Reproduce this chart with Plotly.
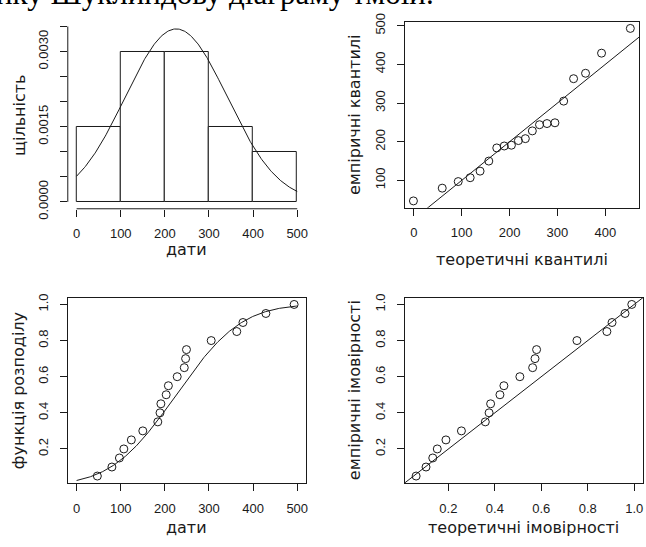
import numpy as np
import plotly.graph_objects as go
from statistics import NormalDist

# ---------------- data ----------------
dates = [47, 80, 97, 107, 124, 150, 184, 189, 191, 203,
         208, 228, 244, 247, 249, 305, 363, 377, 429, 493]
hist_start, hist_end, hist_step = 0, 500, 100
date_ticks = [0, 100, 200, 300, 400, 500]
dens_ticks = [0, 0.0005, 0.0010, 0.0015, 0.0020, 0.0025, 0.0030, 0.0035]
dens_ticktext = ["0.0000", "", "", "0.0015", "", "", "0.0030", ""]
qq_xticks = [0, 100, 200, 300, 400]
qq_yticks = [100, 200, 300, 400, 500]
prob_ticks = [0.2, 0.4, 0.6, 0.8, 1.0]
prob_ticktext = ["0.2", "0.4", "0.6", "0.8", "1.0"]
top_text = "нку Шуклиндову діаграму тмоїи."

# ---------------- fitted normal (MLE) ----------------
arr = np.array(sorted(dates), dtype=float)
n = len(arr)
mu = float(arr.mean())
sigma = float(arr.std())
nd = NormalDist(mu, sigma)
emp_p = [(i + 1) / n for i in range(n)]
ppts = [(i + 0.5) / n for i in range(n)]
theo_q = [nd.inv_cdf(p) for p in ppts]
theo_p = [nd.cdf(v) for v in arr]
xs = np.linspace(hist_start, hist_end, 301)
pdf_y = [nd.pdf(v) for v in xs]
cdf_y = [nd.cdf(v) for v in xs]

W, H = 646, 547
LINE = "#1a1a1a"
TICKFONT = dict(family="Liberation Sans, Arial, sans-serif", size=13, color="#1a1a1a")
TITLEFONT = dict(family="DejaVu Sans, sans-serif", size=16, color="#1a1a1a")


def rpad(lo, hi):
    d = 0.04 * (hi - lo)
    return [lo - d, hi + d]


def dx(l, r):
    return [l / W, r / W]


def dy(t, b):
    return [1 - b / H, 1 - t / H]


def ax(domain, rng, tickvals, ticktext=None, box=True, is_y=False, anchor=None):
    d = dict(domain=domain, range=rng, tickmode="array", tickvals=tickvals,
             ticks="outside", ticklen=7, tickwidth=1, tickcolor=LINE,
             tickfont=TICKFONT, showgrid=False, zeroline=False,
             showline=box, mirror=box, linecolor=LINE, linewidth=1,
             anchor=anchor, ticklabelstandoff=6)
    if ticktext is not None:
        d["ticktext"] = ticktext
    if is_y:
        d["tickangle"] = -90
        d["ticklabelstandoff"] = 7
    return d


fig = go.Figure()

# Panel 1: histogram + density
fig.add_trace(go.Histogram(
    x=dates, histnorm="probability density", autobinx=False,
    xbins=dict(start=hist_start, end=hist_end, size=hist_step),
    marker=dict(color="white", line=dict(color=LINE, width=1)),
    xaxis="x", yaxis="y", showlegend=False))
fig.add_trace(go.Scatter(x=xs, y=pdf_y, mode="lines", line=dict(color=LINE, width=1),
                         xaxis="x", yaxis="y", showlegend=False))

# Panel 2: Q-Q
qq_line = [min(theo_q) - 100, max(arr) + 100]
fig.add_trace(go.Scatter(x=qq_line, y=qq_line, mode="lines", line=dict(color=LINE, width=1),
                         xaxis="x2", yaxis="y2", showlegend=False))
fig.add_trace(go.Scatter(x=theo_q, y=arr, mode="markers",
                         marker=dict(symbol="circle-open", size=8, color=LINE, line=dict(width=1)),
                         xaxis="x2", yaxis="y2", showlegend=False))

# Panel 3: CDF
fig.add_trace(go.Scatter(x=xs, y=cdf_y, mode="lines", line=dict(color=LINE, width=1),
                         xaxis="x3", yaxis="y3", showlegend=False))
fig.add_trace(go.Scatter(x=arr, y=emp_p, mode="markers",
                         marker=dict(symbol="circle-open", size=8, color=LINE, line=dict(width=1)),
                         xaxis="x3", yaxis="y3", showlegend=False))

# Panel 4: P-P
pp_line = [-0.5, 1.5]
fig.add_trace(go.Scatter(x=pp_line, y=pp_line, mode="lines", line=dict(color=LINE, width=1),
                         xaxis="x4", yaxis="y4", showlegend=False))
fig.add_trace(go.Scatter(x=theo_p, y=emp_p, mode="markers",
                         marker=dict(symbol="circle-open", size=8, color=LINE, line=dict(width=1)),
                         xaxis="x4", yaxis="y4", showlegend=False))

# panel geometry (pixels)
P1 = (68, 307, 14.5, 208)
P2 = (406, 641, 14, 207)
P3 = (68, 307, 300, 492)
P4 = (406, 645, 300, 492)

pp_lo = min(min(emp_p), min(theo_p))
pp_hi = max(max(emp_p), max(theo_p))

layout = dict(
    width=W, height=H, margin=dict(l=0, r=0, t=0, b=0),
    paper_bgcolor="white", plot_bgcolor="white", bargap=0, showlegend=False,
    xaxis=ax(dx(P1[0], P1[1]), rpad(hist_start, hist_end), date_ticks, box=False, anchor="y"),
    yaxis=ax(dy(P1[2], P1[3]), rpad(0, max(pdf_y)), dens_ticks, dens_ticktext, box=False, is_y=True, anchor="x"),
    xaxis2=ax(dx(P2[0], P2[1]), rpad(min(theo_q), max(theo_q)), qq_xticks, anchor="y2"),
    yaxis2=ax(dy(P2[2], P2[3]), rpad(float(arr.min()), float(arr.max())), qq_yticks, is_y=True, anchor="x2"),
    xaxis3=ax(dx(P3[0], P3[1]), rpad(hist_start, hist_end), date_ticks, anchor="y3"),
    yaxis3=ax(dy(P3[2], P3[3]), rpad(min(emp_p), max(emp_p)), prob_ticks, prob_ticktext, is_y=True, anchor="x3"),
    xaxis4=ax(dx(P4[0], P4[1]), rpad(pp_lo, pp_hi), prob_ticks, prob_ticktext, anchor="y4"),
    yaxis4=ax(dy(P4[2], P4[3]), rpad(pp_lo, pp_hi), prob_ticks, prob_ticktext, is_y=True, anchor="x4"),
)
fig.update_layout(**layout)

# R-style detached axis lines for the histogram panel
fig.add_shape(type="line", xref="x", yref="paper", x0=date_ticks[0], x1=date_ticks[-1],
              y0=1 - P1[3] / H, y1=1 - P1[3] / H, line=dict(color=LINE, width=1))
fig.add_shape(type="line", xref="paper", yref="y", x0=P1[0] / W, x1=P1[0] / W,
              y0=dens_ticks[0], y1=dens_ticks[-1], line=dict(color=LINE, width=1))

# axis titles
titles = [
    ("дати", 187.5, 250, 0),
    ("щільність", 19, 111, -90),
    ("теоретичні квантилі", 523.5, 261, 0),
    ("емпіричні квантилі", 355, 110, -90),
    ("дати", 187.5, 538, 0),
    ("функція розподілу", 18, 396, -90),
    ("теоретичні імовірності", 525.5, 538, 0),
    ("емпіричні імовірності", 355, 396, -90),
]
for t, px, py, ang in titles:
    fig.add_annotation(text=t, xref="paper", yref="paper", x=px / W, y=1 - py / H,
                       xanchor="center", yanchor="middle", textangle=ang, showarrow=False,
                       font=TITLEFONT)

# line of document text at the very top (only its lower part is inside the picture)
fig.add_annotation(text=top_text, xref="paper", yref="paper", x=437 / W, y=1 - 5 / H,
                   xanchor="right", yanchor="bottom", showarrow=False,
                   font=dict(family="Liberation Serif, serif", size=31, color="black"))

fig.write_html("out.html")
